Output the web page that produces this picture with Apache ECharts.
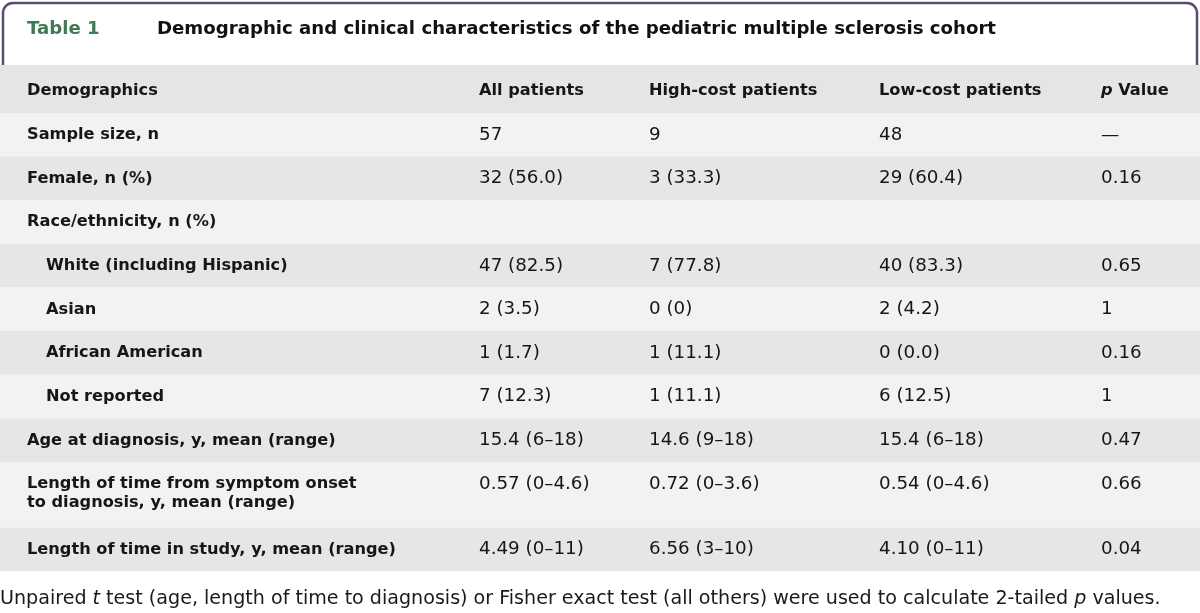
<!DOCTYPE html>
<html><head><meta charset="utf-8">
<script src="https://cdn.jsdelivr.net/npm/echarts@6/dist/echarts.min.js"></script>
<style>html,body{margin:0;padding:0;background:#fff}#c{width:1200px;height:613px}</style>
</head><body><div id="c"></div>
<script>
// ---------- data ----------
const TABLE_NO = 'Table 1';
const TABLE_TITLE = 'Demographic and clinical characteristics of the pediatric multiple sclerosis cohort';
const headers = ['Demographics', 'All patients', 'High-cost patients', 'Low-cost patients', '{i|p} Value'];
const rowLabels = [
  'Sample size, n',
  'Female, n (%)',
  'Race/ethnicity, n (%)',
  'White (including Hispanic)',
  'Asian',
  'African American',
  'Not reported',
  'Age at diagnosis, y, mean (range)',
  'Length of time from symptom onset\nto diagnosis, y, mean (range)',
  'Length of time in study, y, mean (range)'
];
const rowIndent = [0, 0, 0, 1, 1, 1, 1, 0, 0, 0];
const allPatients = ['57', '32 (56.0)', '', '47 (82.5)', '2 (3.5)', '1 (1.7)', '7 (12.3)', '15.4 (6–18)', '0.57 (0–4.6)', '4.49 (0–11)'];
const highCost    = ['9', '3 (33.3)', '', '7 (77.8)', '0 (0)', '1 (11.1)', '1 (11.1)', '14.6 (9–18)', '0.72 (0–3.6)', '6.56 (3–10)'];
const lowCost     = ['48', '29 (60.4)', '', '40 (83.3)', '2 (4.2)', '0 (0.0)', '6 (12.5)', '15.4 (6–18)', '0.54 (0–4.6)', '4.10 (0–11)'];
const pValues     = ['—', '0.16', '', '0.65', '1', '0.16', '1', '0.47', '0.66', '0.04'];
const FOOTNOTE = 'Unpaired {i|t} test (age, length of time to diagnosis) or Fisher exact test (all others) were used to calculate 2-tailed {i|p} values.';

// ---------- layout (style, not data) ----------
const FONT = '"DejaVu Sans", sans-serif';
const FS_BOLD = 16.2;
const FS_REG = 18.3;
const FS_FOOT = 19.1;
const FS_TITLE = 18.15;
const LINE_H = 19;
const COL_X = [27 / 1200, 479 / 1200, 649 / 1200, 879 / 1200, 1101 / 1200];
const INDENT_PX = 19;
const HEADER_UNITS = 1.1;
const EXTRA_LINE_UNITS = 0.5;
const BG_HEADER = '#e5e5e5', BG_DARK = '#e6e6e6', BG_LIGHT = '#f2f2f2';
const TXT = '#161616';

const rows = [];
let cursor = 0;
rows.push({ kind: 'header', start: 0, end: HEADER_UNITS, cells: headers });
cursor = HEADER_UNITS;
rowLabels.forEach((lab, i) => {
  const lines = lab.split('\n').length;
  const h = 1 + EXTRA_LINE_UNITS * (lines - 1);
  rows.push({ kind: 'body', idx: i, start: cursor, end: cursor + h,
    cells: [lab, allPatients[i], highCost[i], lowCost[i], pValues[i]] });
  cursor += h;
});
const TOTAL_UNITS = cursor;

const bgData = rows.map((r, k) => [k, r.start, r.end]);
const cellData = [];
rows.forEach((r, k) => {
  r.cells.forEach((t, c) => { if (t !== '') cellData.push([c, r.start, k, t]); });
});

const chart = echarts.init(document.getElementById('c'), null, { renderer: 'canvas' });
chart.setOption({
  animation: false,
  backgroundColor: '#ffffff',
  grid: { left: 0, right: 0, top: 65, bottom: 42 },
  xAxis: { type: 'value', min: 0, max: 1, show: false },
  yAxis: { type: 'value', min: 0, max: TOTAL_UNITS, inverse: true, show: false },
  graphic: [
    { type: 'rect', z: 0, shape: { x: 3, y: 3, width: 1194, height: 75, r: [10, 10, 0, 0] },
      style: { fill: 'none', stroke: '#5c4a71', lineWidth: 2.5 } },
    { type: 'text', z: 10, left: 27, top: 20, style: { text: TABLE_NO, fill: '#3e7a52', font: 'bold ' + FS_TITLE + 'px ' + FONT } },
    { type: 'text', z: 10, left: 157, top: 20, style: { text: TABLE_TITLE, fill: '#111111', font: 'bold ' + FS_TITLE + 'px ' + FONT } },
    { type: 'text', z: 10, left: 0, top: 590, style: { text: FOOTNOTE, fill: '#1a1a1a', font: FS_FOOT + 'px ' + FONT,
      rich: { i: { fontStyle: 'italic', fontSize: FS_FOOT, fontFamily: FONT, fill: '#1a1a1a' } } } }
  ],
  series: [
    {
      type: 'custom', coordinateSystem: 'cartesian2d', silent: true, z: 5,
      data: bgData,
      encode: { y: [1, 2] },
      renderItem: function (params, api) {
        const k = api.value(0);
        const p0 = api.coord([0, api.value(1)]);
        const p1 = api.coord([1, api.value(2)]);
        const fill = k === 0 ? BG_HEADER : (k % 2 === 1 ? BG_LIGHT : BG_DARK);
        return { type: 'rect', shape: { x: p0[0], y: p0[1], width: p1[0] - p0[0], height: p1[1] - p0[1] },
          style: { fill: fill } };
      }
    },
    {
      type: 'custom', coordinateSystem: 'cartesian2d', silent: true, z: 6,
      data: cellData,
      encode: { x: 0, y: 1 },
      renderItem: function (params, api) {
        const c = api.value(0);
        const k = api.value(2);
        const text = cellData[params.dataIndex][3];
        const r = rows[k];
        const p = api.coord([COL_X[c], r.start]);
        const bold = r.kind === 'header' || c === 0;
        const fs = bold ? FS_BOLD : FS_REG;
        const indent = (r.kind === 'body' && c === 0 && rowIndent[r.idx]) ? INDENT_PX : 0;
        const off = r.kind === 'header' ? 26 : 22;
        return { type: 'text', x: p[0] + indent, y: p[1] + off - LINE_H / 2,
          style: { text: text, fill: TXT, font: (bold ? 'bold ' : '') + fs + 'px ' + FONT,
            lineHeight: LINE_H, verticalAlign: 'top', align: 'left',
            rich: { i: { fontStyle: 'italic', fontWeight: 'bold', fontSize: fs, fontFamily: FONT, fill: TXT, lineHeight: LINE_H } } } };
      }
    }
  ]
});
</script>
</body></html>
